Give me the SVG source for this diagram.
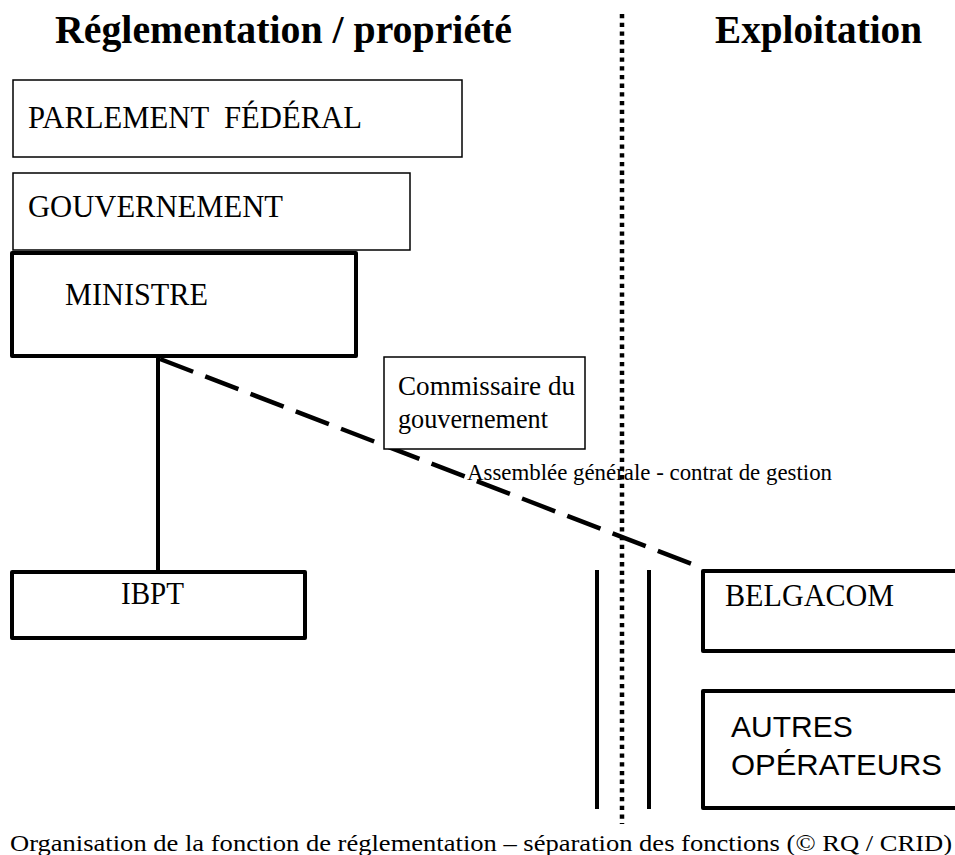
<svg xmlns="http://www.w3.org/2000/svg" width="955" height="855" viewBox="0 0 955 855">
<style>
text{font-family:"Liberation Serif","Times New Roman",serif;fill:#000}
.h{font-weight:bold;font-size:41px}
.t{font-size:31px}
.thin{fill:#fff;stroke:#000;stroke-width:1.5}
.thick{fill:#fff;stroke:#000;stroke-width:4;stroke-linejoin:round}
.sans{font-family:"Liberation Sans",Arial,sans-serif;font-size:30px}
</style>
<rect width="955" height="855" fill="#fff"/>
<g id="headers">
<text class="h" x="55" y="43" textLength="457" lengthAdjust="spacingAndGlyphs">Réglementation / propriété</text>
<text class="h" x="715" y="43" textLength="207" lengthAdjust="spacingAndGlyphs">Exploitation</text>
</g>
<g id="connectors" stroke="#000" fill="none">
<line x1="622" y1="14" x2="622" y2="824" stroke-width="4.5" stroke-dasharray="4.3 4.4"/>
<line x1="158" y1="357" x2="158" y2="572" stroke-width="4"/>
<line x1="160" y1="359" x2="692" y2="564" stroke-width="4.5" stroke-dasharray="35.5 13"/>
<line x1="597" y1="570" x2="597" y2="809" stroke-width="4"/>
<line x1="649" y1="570" x2="649" y2="809" stroke-width="4"/>
</g>
<g id="parlement">
<rect class="thin" x="13" y="80" width="449" height="77"/>
<text class="t" x="28" y="128" textLength="334" lengthAdjust="spacingAndGlyphs" xml:space="preserve">PARLEMENT  FÉDÉRAL</text>
</g>
<g id="gouvernement">
<rect class="thin" x="13" y="173" width="397" height="77"/>
<text class="t" x="28" y="217" textLength="255" lengthAdjust="spacingAndGlyphs">GOUVERNEMENT</text>
</g>
<g id="ministre">
<rect class="thick" x="12" y="253" width="344" height="103"/>
<text class="t" x="65" y="305" textLength="143" lengthAdjust="spacingAndGlyphs">MINISTRE</text>
</g>
<g id="commissaire">
<rect class="thin" x="384" y="357" width="201" height="92"/>
<text x="398" y="395" font-size="28" textLength="177" lengthAdjust="spacingAndGlyphs">Commissaire du</text>
<text x="398" y="428" font-size="28" textLength="150" lengthAdjust="spacingAndGlyphs">gouvernement</text>
</g>
<g id="label-assemblee">
<text x="467" y="480" font-size="23" textLength="365" lengthAdjust="spacingAndGlyphs">Assemblée générale - contrat de gestion</text>
</g>
<g id="ibpt">
<rect class="thick" x="12" y="572" width="293" height="66"/>
<text class="t" x="121" y="604" textLength="63" lengthAdjust="spacingAndGlyphs">IBPT</text>
</g>
<g id="belgacom">
<rect class="thick" x="703" y="571" width="260" height="80"/>
<text class="t" x="725" y="606" textLength="169" lengthAdjust="spacingAndGlyphs">BELGACOM</text>
</g>
<g id="autres">
<rect class="thick" x="703" y="691" width="260" height="117"/>
<text class="sans" x="731" y="737">AUTRES</text>
<text class="sans" x="731" y="775" textLength="211" lengthAdjust="spacingAndGlyphs">OPÉRATEURS</text>
</g>
<g id="caption">
<text x="10" y="851" font-size="24" textLength="942" lengthAdjust="spacingAndGlyphs">Organisation de la fonction de réglementation – séparation des fonctions (© RQ / CRID)</text>
</g>
</svg>
